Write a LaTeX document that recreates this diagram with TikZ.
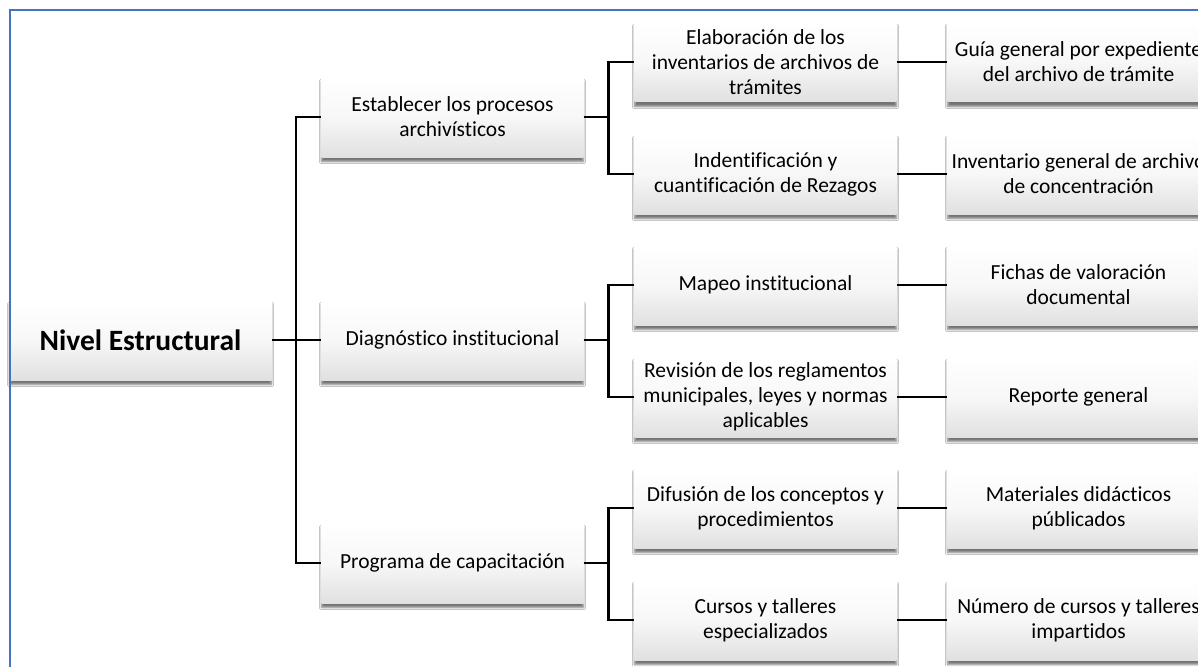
\documentclass[tikz,border=0pt]{standalone}
\usepackage{fontspec}
\setmainfont{Carlito}[Ligatures={NoCommon}]
\usetikzlibrary{shadows.blur}
\definecolor{frameblue}{HTML}{4472C4}
\tikzset{
  box/.style={shade, top color=white, bottom color=black!12, middle color=white!97!black,
    minimum width=262pt, minimum height=80pt, inner sep=2pt, align=center,
    font=\fontsize{21.5}{25}\selectfont,
    blur shadow={shadow xshift=0pt, shadow yshift=-4.5pt, shadow blur steps=5, shadow opacity=55, shadow blur radius=2.2pt}},
  rootbox/.style={box, font=\fontsize{29.5}{34}\selectfont\bfseries},
  conn/.style={line width=2.5pt, black},
}
\begin{document}
\begin{tikzpicture}[x=1pt,y=-1pt]
\useasboundingbox (0,0) rectangle (1198,666);
\clip (0,0) rectangle (1198,666);
\fill[white] (0,0) rectangle (1198,666);
% root
\node[rootbox] (root) at (140.5,340) {Nivel Estructural};
% level 1
\node[box] (la) at (452.5,117) {Establecer los procesos\\archivísticos};
\node[box] (lb) at (452.5,340) {Diagnóstico institucional};
\node[box] (lc) at (452.5,563) {Programa de capacitación};
% level 2
\node[box] (ma) at (765.5,62) {Elaboración de los\\inventarios de archivos de\\trámites};
\node[box] (mb) at (765.5,174) {Indentificación y\\cuantificación de Rezagos};
\node[box] (mc) at (765.5,285) {Mapeo institucional};
\node[box] (md) at (765.5,397) {Revisión de los reglamentos\\municipales, leyes y normas\\aplicables};
\node[box] (me) at (765.5,508) {Difusión de los conceptos y\\procedimientos};
\node[box] (mf) at (765.5,620) {Cursos y talleres\\especializados};
% level 3
\node[box] (ra) at (1078.5,62) {Guía general por expediente\\del archivo de trámite};
\node[box] (rb) at (1078.5,174) {Inventario general de archivo\\de concentración};
\node[box] (rc) at (1078.5,285) {Fichas de valoración\\documental};
\node[box] (rd) at (1078.5,397) {Reporte general};
\node[box] (re) at (1078.5,508) {Materiales didácticos\\públicados};
\node[box] (rf) at (1078.5,620) {Número de cursos y talleres\\impartidos};
% connectors
\coordinate (j0) at (296,340);
\draw[conn] (root.east) -- (lb.west);
\draw[conn] (j0) |- (la.west);
\draw[conn] (j0) |- (lc.west);
\draw[conn] (la.east) -- ++(25pt,0) |- (ma.west);
\draw[conn] (la.east) -- ++(25pt,0) |- (mb.west);
\draw[conn] (lb.east) -- ++(25pt,0) |- (mc.west);
\draw[conn] (lb.east) -- ++(25pt,0) |- (md.west);
\draw[conn] (lc.east) -- ++(25pt,0) |- (me.west);
\draw[conn] (lc.east) -- ++(25pt,0) |- (mf.west);
\draw[conn] (ma.east) -- (ra.west);
\draw[conn] (mb.east) -- (rb.west);
\draw[conn] (mc.east) -- (rc.west);
\draw[conn] (md.east) -- (rd.west);
\draw[conn] (me.east) -- (re.west);
\draw[conn] (mf.east) -- (rf.west);
% frame
\draw[frameblue, line width=2.2pt] (10,700) -- (10,10) -- (1230,10);
\end{tikzpicture}
\end{document}
